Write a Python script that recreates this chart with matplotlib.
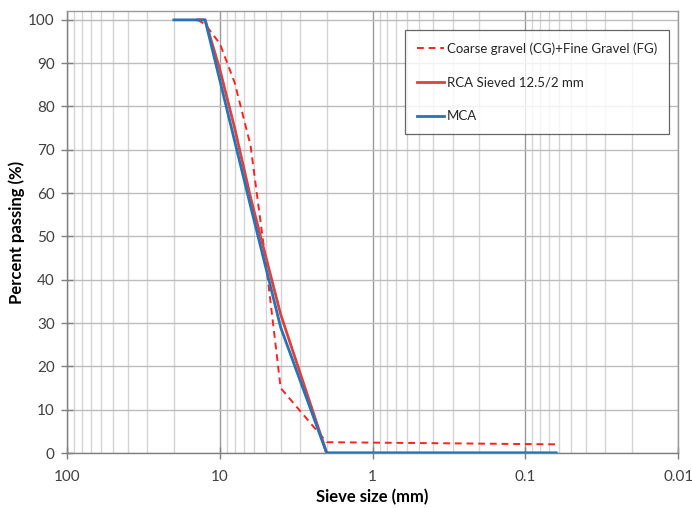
import numpy as np
import matplotlib
matplotlib.use("Agg")
import matplotlib.pyplot as plt
from matplotlib.ticker import LogLocator, FixedLocator, NullFormatter

plt.rcParams['font.family'] = ['Lato', 'DejaVu Sans']

# Grading curves: sieve size (mm) vs percent passing (%)
cg_fg_size = [14, 12.5, 10, 8, 6.3, 5, 4, 2, 0.063]
cg_fg_pass = [100, 99, 94.5, 85.5, 71, 44, 15, 2.5, 2.0]

rca_size = [14, 12.5, 10, 8, 6.3, 4, 2, 0.063]
rca_pass = [100, 100, 88.5, 75, 59, 32, 0, 0]

mca_size = [20, 12.5, 10, 8, 6.3, 4, 2, 0.063]
mca_pass = [100, 100, 86, 72, 57, 29, 0, 0]

x_ticks = [100, 10, 1, 0.1, 0.01]
x_tick_labels = ['100', '10', '1', '0.1', '0.01']
y_ticks = list(range(0, 101, 10))

fig = plt.figure(figsize=(6.92, 5.09), dpi=100)
ax = fig.add_axes([0.097, 0.110, 0.883, 0.868])

ax.plot(cg_fg_size, cg_fg_pass, color='#ff2020', lw=1.4, ls=(0, (3.5, 2.5)),
        label='Coarse gravel (CG)+Fine Gravel (FG)', zorder=3)
ax.plot(rca_size, rca_pass, color='#e2403c', lw=2.0,
        label='RCA Sieved 12.5/2 mm', zorder=4)
ax.plot(mca_size, mca_pass, color='#2674b8', lw=2.0, label='MCA', zorder=5)

ax.set_xscale('log')
ax.set_xlim(100, 0.01)
ax.set_ylim(0, 102)

ax.xaxis.set_major_locator(FixedLocator(x_ticks))
ax.set_xticklabels(x_tick_labels)
ax.xaxis.set_minor_locator(LogLocator(base=10, subs=np.arange(2, 10)))
ax.xaxis.set_minor_formatter(NullFormatter())
ax.set_yticks(y_ticks)

ax.grid(which='major', axis='x', color='#9a9a9a', lw=1.0)
ax.grid(which='minor', axis='x', color='#d4d4d4', lw=1.0)
ax.grid(which='major', axis='y', color='#bdbdbd', lw=1.0)
ax.set_axisbelow(True)

for side in ['top', 'right']:
    ax.spines[side].set_color('#9a9a9a')
    ax.spines[side].set_linewidth(1.0)
for side in ['left', 'bottom']:
    ax.spines[side].set_color('#7f7f7f')
    ax.spines[side].set_linewidth(1.0)

ax.tick_params(axis='both', which='major', direction='inout', length=8,
               width=1.0, color='#7f7f7f', labelsize=11, labelcolor='#404040')
ax.tick_params(axis='x', which='major', pad=8)
ax.tick_params(axis='y', which='major', pad=5)
ax.tick_params(axis='x', which='minor', length=0)

ax.set_xlabel('Sieve size (mm)', fontsize=12, fontweight='bold', labelpad=4)
ax.set_ylabel('Percent passing (%)', fontsize=12, fontweight='bold', labelpad=2)

leg = ax.legend(loc='upper right', bbox_to_anchor=(0.985, 0.957), fontsize=9.5,
                frameon=True, fancybox=False, edgecolor='#404040',
                handlelength=2.1, handletextpad=0.2, labelspacing=1.65,
                borderpad=0.9, borderaxespad=0)
leg.get_frame().set_linewidth(0.9)
for t in leg.get_texts():
    t.set_color('#262626')

fig.savefig('out.png', dpi=100)
